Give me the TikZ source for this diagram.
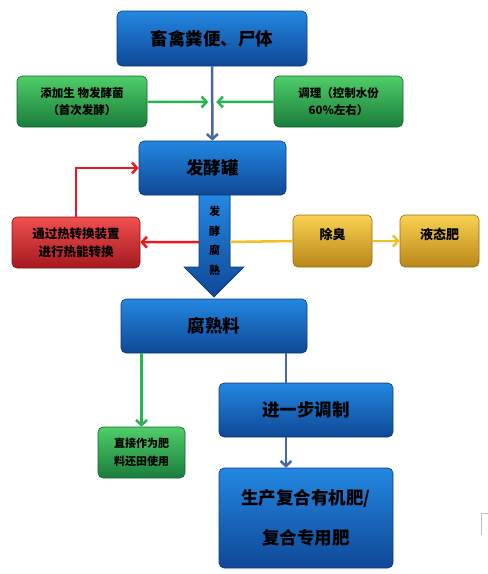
\documentclass[tikz,border=0pt]{standalone}
\usepackage{fontspec}
\newfontfamily\cjk{Noto Sans CJK SC}
\usetikzlibrary{arrows.meta, calc}
\definecolor{boxbluetop}{RGB}{35, 135, 225}
\definecolor{boxbluebot}{RGB}{15, 72, 150}
\definecolor{boxgreentop}{RGB}{80, 205, 105}
\definecolor{boxgreenbot}{RGB}{25, 125, 60}
\definecolor{boxredtop}{RGB}{240, 80, 80}
\definecolor{boxredbot}{RGB}{165, 25, 30}
\definecolor{boxyellowtop}{RGB}{248, 210, 80}
\definecolor{boxyellowbot}{RGB}{185, 135, 25}
\definecolor{linkblue}{RGB}{70, 105, 165}
\definecolor{linkgreen}{RGB}{40, 180, 80}
\definecolor{linkred}{RGB}{235, 25, 30}
\definecolor{linkyellow}{RGB}{245, 190, 35}

\tikzset{
  flowbox/.style={rounded corners=5pt, draw=#1!80!black, line width=0.6pt,
    inner sep=2pt, align=center, font=\cjk\bfseries},
  bluebox/.style={flowbox=boxbluebot, top color=boxbluetop, bottom color=boxbluebot},
  greenbox/.style={flowbox=boxgreenbot, top color=boxgreentop, bottom color=boxgreenbot},
  redbox/.style={flowbox=boxredbot, top color=boxredtop, bottom color=boxredbot},
  yellowbox/.style={flowbox=boxyellowbot, top color=boxyellowtop, bottom color=boxyellowbot},
  link/.style={line width=2.5pt, #1, -{Straight Barb[length=5pt, width=11pt, line width=2.5pt]}},
  plainlink/.style={line width=2.5pt, #1}
}

\begin{document}
\begin{tikzpicture}[x=1pt, y=-1pt]
  \useasboundingbox (0,0) rectangle (488,574);

  % main column
  \node[bluebox, minimum width=190pt, minimum height=55pt, font=\cjk\bfseries\fontsize{17.5}{20}\selectfont]
    (src) at (212,38.5) {畜禽粪便、尸体};
  \node[bluebox, minimum width=147pt, minimum height=54pt, font=\cjk\bfseries\fontsize{17.5}{20}\selectfont]
    (tank) at (212.5,168) {发酵罐};
  \node[bluebox, minimum width=186pt, minimum height=54pt, font=\cjk\bfseries\fontsize{17.5}{20}\selectfont]
    (mature) at (214,326) {腐熟料};
  \node[bluebox, minimum width=174pt, minimum height=54pt, font=\cjk\bfseries\fontsize{17.5}{20}\selectfont]
    (refine) at (306,410) {进一步调制};
  \node[bluebox, minimum width=174pt, minimum height=100pt, font=\cjk\bfseries\fontsize{17.5}{40}\selectfont]
    (product) at (306,518) {生产复合有机肥/\\复合专用肥};

  % side boxes
  \node[greenbox, minimum width=130pt, minimum height=51pt, font=\cjk\bfseries\fontsize{11.5}{17}\selectfont]
    (addb) at (82,101.5) {添加生 物发酵菌\\（首次发酵）};
  \node[greenbox, minimum width=129pt, minimum height=51pt, font=\cjk\bfseries\fontsize{11.5}{17}\selectfont]
    (adjw) at (338.5,101.5) {调理（控制水份\\60\%左右）};
  \node[redbox, minimum width=128pt, minimum height=51pt, font=\cjk\bfseries\fontsize{12.5}{18}\selectfont]
    (heat) at (76,242.5) {通过热转换装置\\进行热能转换};
  \node[yellowbox, minimum width=79pt, minimum height=52pt, font=\cjk\bfseries\fontsize{13}{16}\selectfont,
    text depth=14pt] (deodor) at (332.5,241) {除臭};
  \node[yellowbox, minimum width=79pt, minimum height=52pt, font=\cjk\bfseries\fontsize{13}{16}\selectfont,
    text depth=14pt] (liquid) at (439.5,241) {液态肥};
  \node[greenbox, minimum width=87pt, minimum height=51pt, font=\cjk\bfseries\fontsize{11}{18}\selectfont]
    (direct) at (141.5,452.5) {直接作为肥\\料还田使用};

  % block arrow
  \filldraw[draw=boxbluebot!80!black, line width=0.6pt, top color=boxbluetop, bottom color=boxbluebot]
    (199,195) -- (230,195) -- (230,267) -- (244,267) -- (214,297) -- (184,267) -- (199,267) -- cycle;
  \node[font=\cjk\bfseries\fontsize{11}{19.5}\selectfont, align=center, inner sep=0pt]
    (ferm) at (214.5,241) {发\\酵\\腐\\熟};
  \coordinate (shaftL) at (199,242);
  \coordinate (shaftR) at (230,242);

  % connectors
  \coordinate (join) at ($(src.south)!0.48!(tank.north)$);
  \draw[link=linkblue] (src) -- (tank);
  \draw[link=linkgreen, shorten >=4pt] (addb) -- (join);
  \draw[link=linkgreen, shorten >=4pt] (adjw) -- (join);
  \draw[link=linkred] (shaftL) -- (heat);
  \draw[link=linkred] (heat.north) |- (tank.west);
  \draw[plainlink=linkyellow] (shaftR) -- (deodor.west);
  \draw[link=linkyellow] (deodor) -- (liquid);
  \draw[link=linkgreen] (direct.north |- mature.south) -- (direct.north);
  \draw[plainlink=linkblue] ([xshift=-20pt]mature.south -| refine.north) -- ([xshift=-20pt]refine.north);
  \draw[link=linkblue] ([xshift=-20pt]refine.south) -- ([xshift=-20pt]product.north);

  % stray mark at right edge
  \draw[black!25, line width=1pt] (481,535) -- (481,513) -- (488,513);
\end{tikzpicture}
\end{document}
